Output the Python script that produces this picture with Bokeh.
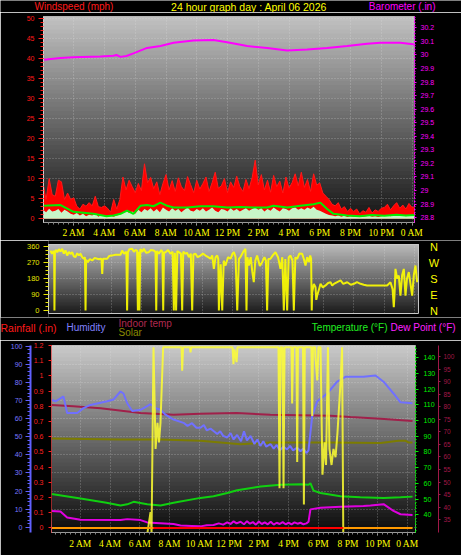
import numpy as np
from bokeh.plotting import figure
from bokeh.models import Range1d, LinearAxis, FixedTicker, Label, Grid
from bokeh.embed import file_html
from bokeh.resources import INLINE

# ---------------- time axis ----------------
hour_ticks = [2, 4, 6, 8, 10, 12, 14, 16, 18, 20, 22, 24]
hour_labels = ["2 AM", "4 AM", "6 AM", "8 AM", "10 AM", "12 PM", "2 PM", "4 PM",
               "6 PM", "8 PM", "10 PM", "0 AM"]

# ---------------- top panel: wind (mph) + barometer (in) ----------------
wind_hours = [0.0, 0.2, 0.4, 0.6, 0.8, 1.0, 1.2, 1.4, 1.6, 1.8, 2.0, 2.2, 2.4, 2.6, 2.8,
              3.0, 3.2, 3.4, 3.6, 3.8, 4.0, 4.2, 4.4, 4.6, 4.8, 5.0, 5.2, 5.4, 5.6, 5.8,
              6.0, 6.2, 6.4, 6.6, 6.8, 7.0, 7.2, 7.4, 7.6, 7.8, 8.0, 8.2, 8.4, 8.6, 8.8,
              9.0, 9.2, 9.4, 9.6, 9.8, 10.0, 10.2, 10.4, 10.6, 10.8, 11.0, 11.2, 11.4,
              11.6, 11.8, 12.0, 12.2, 12.4, 12.6, 12.8, 13.0, 13.2, 13.4, 13.6, 13.8,
              14.0, 14.2, 14.4, 14.6, 14.8, 15.0, 15.2, 15.4, 15.6, 15.8, 16.0, 16.2,
              16.4, 16.6, 16.8, 17.0, 17.2, 17.4, 17.6, 17.8, 18.0, 18.2, 18.4, 18.6,
              18.8, 19.0, 19.2, 19.4, 19.6, 19.8, 20.0, 20.2, 20.4, 20.6, 20.8, 21.0,
              21.2, 21.4, 21.6, 21.8, 22.0, 22.2, 22.4, 22.6, 22.8, 23.0, 23.2, 23.4,
              23.6, 23.8, 24.0, 24.2]
wind_gust = [8.9, 4.8, 10.0, 6.0, 5.6, 9.6, 9.2, 4.8, 6.4, 4.8,
             5.2, 3.1, 2.4, 3.6, 3.1, 4.0, 3.2, 5.6, 3.0, 2.8, 3.2, 2.6, 1.6, 4.8, 2.4,
             4.8, 10.4, 7.2, 9.6, 8.0, 6.5, 8.8, 7.0,
             13.7,
             9.0, 10.3, 7.5, 9.2, 6.0, 8.8, 11.0, 7.2, 9.5, 6.8, 10.2, 8.0, 7.0, 10.5, 8.5, 6.5,
             9.6, 7.4, 8.8, 10.4, 6.8, 9.0, 11.6, 7.6, 8.2, 10.0, 6.5, 9.2, 7.8, 10.6, 8.0,
             6.8, 9.8, 7.5, 10.2,
             14.6,
             8.4, 11.0, 7.2, 9.6, 6.6, 10.8, 8.0, 9.4, 6.4, 10.4, 7.6, 9.0, 11.2, 8.2,
             11.6, 7.8, 9.8, 6.8, 11.2, 8.4, 8.9,
             6.4, 5.6, 4.8, 3.6,
             3.2, 4.0, 2.4, 3.0, 1.8, 2.6,
             1.8, 2.4, 1.2, 2.0, 1.6, 2.8, 1.4, 2.2, 1.8, 2.6,
             2.8, 3.6, 2.2, 3.2, 4.0, 2.6, 3.4, 2.4, 3.8, 2.8, 3.0]
wind_speed = [2.2, 1.6, 2.5, 1.8, 2.0, 2.4, 1.5, 2.2, 1.8, 1.2,
              1.0, 1.4, 0.8, 1.2, 0.6, 1.0, 0.8, 1.3, 0.5, 0.9, 0.6, 0.4, 0.7, 0.5, 0.8,
              1.0, 1.6, 2.0, 1.4, 1.8, 1.2, 2.2, 1.6,
              2.4,
              2.0, 2.6, 1.8, 2.4, 1.6, 2.8, 2.2, 1.8, 2.6, 2.0, 2.4, 1.6, 2.2, 2.8, 2.0, 1.8,
              2.4, 2.0, 2.6, 1.8, 2.2, 2.8, 2.0, 1.6, 2.4, 2.2, 1.8, 2.6, 2.0, 2.4, 1.8,
              2.2, 2.6, 2.0, 2.4,
              2.8,
              2.2, 2.6, 1.8, 2.4, 2.0, 2.8, 2.2, 1.8, 2.6, 2.4, 2.0, 2.6, 2.8, 2.2,
              2.6, 2.2, 2.8, 2.4, 3.0, 2.2, 2.0,
              1.6, 1.2, 0.9, 0.8,
              0.6, 0.8, 0.5, 0.7, 0.4, 0.6,
              0.5, 0.6, 0.4, 0.5, 0.6, 0.7, 0.5, 0.6, 0.4, 0.6,
              0.7, 0.9, 0.6, 0.8, 1.0, 0.7, 0.9, 0.6, 0.8, 0.7, 0.8]
avg_hours = [0.03, 1.14, 1.98, 3.28, 4.13, 4.58, 5.04, 5.47, 5.88, 6.34, 6.77, 7.18, 7.64,
             8.08, 8.49, 9.38, 10.24, 11.08, 11.98, 12.84, 13.69, 14.58, 14.99, 15.88,
             16.74, 17.59, 18.04, 18.48, 18.89, 19.78, 20.6, 21.4, 22.2, 23.0, 23.6, 24.2]
wind_avg = [3.2, 3.4, 1.7, 1.2, 0.6, 0.8, 1.2, 2.0, 1.2, 3.2, 3.4, 3.1, 4.0, 3.2, 2.8, 2.8,
            3.1, 3.1, 2.8, 2.9, 2.8, 2.8, 3.2, 2.8, 3.2, 3.6, 4.0, 2.4, 1.2, 0.8, 0.6, 0.9,
            0.7, 1.0, 0.8, 0.9]
baro_hours = [0.03, 1.14, 1.98, 3.74, 4.58, 4.78, 5.04, 5.43, 5.88, 6.77, 7.64, 8.49, 9.79,
              11.08, 11.98, 13.28, 14.58, 15.88, 17.18, 18.48, 19.78, 21.08, 21.94, 23.24, 24.2]
baro_inhg = [29.964, 29.977, 29.984, 29.988, 29.995, 30.0, 29.986, 29.993, 30.012, 30.052,
             30.066, 30.09, 30.107, 30.111, 30.094, 30.066, 30.052, 30.033, 30.04, 30.052,
             30.066, 30.083, 30.09, 30.09, 30.078]
wind_ticks = [0, 5, 10, 15, 20, 25, 30, 35, 40, 45, 50]
baro_ticks = [28.8, 28.9, 29.0, 29.1, 29.2, 29.3, 29.4, 29.5, 29.6, 29.7, 29.8, 29.9,
              30.0, 30.1, 30.2]
baro_tick_labels = ["28.8", "28.9", "29", "29.1", "29.2", "29.3", "29.4", "29.5", "29.6",
                    "29.7", "29.8", "29.9", "30", "30.1", "30.2"]

# ---------------- middle panel: wind direction (deg) ----------------
dir_hours = [0.00, 0.06, 0.11, 0.20, 0.24, 0.26, 0.29, 0.36, 0.44, 0.55,
             0.66, 0.77, 0.88, 0.99, 1.10, 1.21, 1.32, 1.43, 1.54, 1.65,
             1.76, 1.87, 1.98, 2.09, 2.20, 2.27, 2.31, 2.35, 2.46, 2.60,
             2.75, 2.90, 3.08, 3.20, 3.30, 3.36, 3.41, 3.46, 3.52, 3.74,
             3.85, 3.96, 4.10, 4.28, 4.45, 4.61, 4.72, 4.85, 5.00, 5.05,
             5.10, 5.20, 5.38, 5.50, 5.60, 5.71, 5.76, 5.80, 5.86, 5.92,
             6.05, 6.15, 6.30, 6.48, 6.60, 6.81, 6.92, 6.97, 7.02, 7.14,
             7.30, 7.38, 7.43, 7.48, 7.58, 7.75, 7.91, 8.05, 8.13, 8.20,
             8.28, 8.36, 8.46, 8.60, 8.68, 8.75, 8.90, 9.00, 9.12, 9.25,
             9.34, 9.42, 9.56, 9.70, 9.89, 10.05, 10.22, 10.40, 10.55, 10.66,
             10.77, 10.88, 10.99, 11.06, 11.10, 11.22, 11.32, 11.42, 11.54, 11.70,
             11.87, 12.00, 12.09, 12.20, 12.31, 12.42, 12.52, 12.70, 12.85, 12.92,
             12.98, 13.07, 13.20, 13.30, 13.40, 13.50, 13.62, 13.80, 13.95, 14.10,
             14.20, 14.28, 14.36, 14.50, 14.65, 14.83, 15.00, 15.16, 15.28, 15.38,
             15.48, 15.60, 15.70, 15.82, 15.95, 16.04, 16.14, 16.26, 16.40, 16.59,
             16.70, 16.81, 16.92, 17.03, 17.12, 17.18, 17.22, 17.25, 17.36, 17.47,
             17.52, 17.58, 17.70, 17.80, 17.95, 18.13, 18.30, 18.46, 18.57, 18.68,
             18.90, 19.12, 19.30, 19.56, 19.80, 20.00, 20.20, 20.44, 20.65, 20.87,
             21.10, 21.31, 21.55, 21.75, 22.00, 22.19, 22.41, 22.55, 22.63, 22.68,
             22.74, 22.85, 22.96, 23.07, 23.18, 23.29, 23.40, 23.50, 23.62, 23.73,
             23.84, 23.95, 24.06, 24.17]
dir_deg = [337, 325, 319, 335, 330, 0, 328, 340, 328, 345,
           332, 347, 320, 338, 309, 330, 318, 328, 305, 300,
           322, 310, 319, 300, 291, 300, 0, 285, 272, 290,
           281, 295, 291, 288, 291, 290, 206, 291, 291, 291,
           305, 309, 310, 313, 313, 313, 337, 320, 330, 0,
           328, 345, 347, 330, 340, 337, 0, 330, 0, 345,
           330, 347, 325, 328, 340, 337, 330, 0, 335, 319,
           340, 330, 0, 325, 328, 340, 319, 330, 0, 325,
           0, 335, 328, 320, 0, 330, 319, 325, 300, 320,
           0, 315, 319, 300, 309, 320, 309, 300, 291, 310,
           234, 300, 309, 290, 0, 260, 0, 280, 253, 300,
           291, 320, 328, 300, 0, 290, 300, 330, 347, 0,
           300, 253, 300, 220, 159, 280, 309, 250, 272, 300,
           280, 0, 290, 291, 310, 328, 300, 234, 300, 0,
           290, 0, 300, 309, 280, 0, 300, 291, 320, 319,
           290, 253, 300, 272, 310, 291, 0, 103, 150, 131,
           60, 84, 120, 150, 130, 141, 155, 159, 140, 150,
           160, 169, 150, 159, 145, 150, 160, 150, 145, 141,
           141, 141, 141, 141, 141, 141, 159, 120, 18, 94,
           234, 180, 197, 84, 200, 234, 84, 180, 216, 150,
           84, 200, 253, 159]
dir_ticks = [0, 90, 180, 270, 360]
compass_deg = [360, 270, 180, 90, 0]
compass_letters = ["N", "W", "S", "E", "N"]

# ---------------- bottom panel ----------------
hum_hours = [0.09, 0.32, 0.65, 0.85, 1.10, 1.78, 2.20, 2.67, 3.80, 4.22, 4.69, 4.89, 5.14,
             5.48, 6.04, 6.49, 6.71, 7.05, 7.38, 7.72, 8.26, 8.93, 9.2, 9.5, 9.8, 10.07,
             10.3, 10.5, 10.75, 10.95, 11.2, 11.4, 11.6, 11.87, 12.1, 12.3, 12.54, 12.8,
             13.0, 13.2, 13.44, 13.7, 13.9, 14.1, 14.3, 14.5, 14.78, 15.0, 15.2, 15.4,
             15.66, 15.9, 16.1, 16.3, 16.58, 16.8, 17.0, 17.2, 17.34, 17.59, 17.93, 18.60,
             19.27, 19.83, 21.04, 21.85, 22.39, 23.06, 23.53, 24.34]
humidity = [70.3, 69.6, 71.2, 72.3, 63.1, 63.1, 65.8, 67.6, 69.6, 70.6, 75.0, 73.9, 68.5,
            64.2, 64.9, 66.9, 68.0, 65.8, 64.9, 62.2, 59.5, 57.7, 56.0, 57.5, 55.0, 55.0,
            56.5, 53.5, 54.5, 53.2, 51.5, 53.0, 50.5, 49.6, 52.0, 48.5, 51.0, 47.5,
            53.0, 48.0, 50.5, 46.0, 48.5, 45.0, 47.5, 44.5, 46.0, 43.5, 45.5, 42.5,
            44.5, 43.0, 45.0, 42.5, 44.0, 42.0, 43.5, 41.0, 42.5, 61.5, 69.6, 73.9,
            80.4, 83.1, 83.1, 83.8, 80.4, 73.9, 69.0, 68.5]
indoor_hours = [0.05, 1.5, 3.35, 6.04, 8.26, 10.07, 12.50, 14.78, 18.82, 20.17, 22.19, 24.34]
indoor_temp = [80.7, 80.2, 79.4, 77.5, 76.8, 77.2, 77.5, 76.8, 76.4, 75.9, 75.2, 74.3]
solar_hours = [0.05, 4.69, 7.38, 10.07, 12.77, 14.78, 18.82, 22.19, 23.40, 23.87, 24.07, 24.34]
solar = [49.0, 48.5, 48.5, 47.8, 45.9, 46.9, 46.9, 46.5, 47.8, 47.8, 46.9, 46.9]
temp_hours = [0.05, 2.0, 3.75, 4.69, 5.14, 5.57, 6.49, 7.38, 8.26, 10.07, 10.95, 11.87,
              12.54, 14.11, 15.46, 16.80, 17.34, 17.47, 17.68, 18.15, 19.49, 20.83, 22.39,
              23.53, 24.34]
temp_f = [53.3, 50.4, 47.7, 46.0, 46.7, 48.3, 46.7, 46.0, 47.7, 50.8, 51.8, 53.9, 55.6,
          58.0, 59.1, 59.5, 59.1, 60.1, 55.4, 53.9, 51.8, 51.2, 50.8, 51.2, 51.6]
dew_hours = [0.05, 0.65, 1.10, 2.0, 4.69, 5.14, 6.04, 6.49, 8.26, 8.73, 9.5, 10.07, 10.5,
             10.95, 11.3, 11.6, 11.87, 12.1, 12.3, 12.5, 12.77, 13.0, 13.2, 13.4, 13.6,
             13.8, 14.0, 14.2, 14.4, 14.6, 14.8, 15.0, 15.2, 15.4, 15.6, 15.8, 16.0, 16.2,
             16.4, 16.6, 16.8, 17.0, 17.2, 17.34, 17.47, 18.15, 19.49, 21.04, 21.51,
             22.39, 23.06, 23.53, 24.34]
dew_f = [42.5, 42.1, 38.3, 36.9, 36.7, 37.3, 36.7, 35.2, 34.2, 33.2, 33.0, 32.7, 33.4,
         33.6, 34.6, 33.8, 35.2, 34.2, 35.9, 34.6, 35.6, 34.0, 36.0, 34.4, 35.4,
         33.8, 35.8, 34.2, 35.2, 34.0, 35.6, 33.8, 35.0, 34.2, 35.4, 34.0, 35.0, 34.0,
         35.2, 34.4, 35.0, 34.0, 34.6, 35.6, 43.5, 44.5, 45.2, 45.6, 46.0,
         46.8, 42.5, 40.4, 40.0]
sun_hours = [6.51, 6.71, 6.78, 6.91, 7.05, 7.18, 7.28, 7.38, 7.56, 8.80, 8.84, 8.90, 9.37,
             9.40, 9.45, 12.23, 12.29, 12.36, 12.50, 12.56, 15.32, 15.39, 15.46, 15.59,
             15.66, 15.73, 16.20, 16.24, 16.30, 16.53, 16.58, 16.63, 16.97, 17.03, 17.09,
             17.54, 17.59, 17.64, 17.78, 17.81, 17.93, 18.01, 18.15, 18.28, 18.42, 18.52,
             18.65, 18.75, 18.89, 19.02, 19.16, 19.29, 19.49, 19.60, 19.68]
sun_wm2 = [0, 108, 0, 990, 446, 586, 481, 586, 990, 990, 865, 990, 990,
           963, 990, 990, 900, 979, 911, 990, 990, 236, 990, 990,
           236, 990, 990, 690, 990, 990, 376, 990, 990, 149, 990,
           990, 622, 990, 990, 937, 813, 990, 990, 308, 481, 360,
           990, 446, 360, 446, 402, 533, 795, 990, 0]
rate_hours = [0.05, 24.34]
rain_rate = [0.0, 0.0]
rain_hours = [6.9, 19.68]
rain_in = [0.0, 0.0]
rain_ticks = [0.0, 0.1, 0.2, 0.3, 0.4, 0.5, 0.6, 0.7, 0.8, 0.9, 1.0, 1.1, 1.2]
rain_tick_labels = ["0", "0.1", "0.2", "0.3", "0.4", "0.5", "0.6", "0.7", "0.8", "0.9",
                    "1", "1.1", "1.2"]
hum_ticks = [0, 10, 20, 30, 40, 50, 60, 70, 80, 90, 100]
temp_ticks = [40, 50, 60, 70, 80, 90, 100, 110, 120, 130, 140]
indoor_ticks = [35, 40, 45, 50, 55, 60, 65, 70, 75, 80, 85, 90, 95, 100]

FONT = "Liberation Sans"
TICK_FONT = "Liberation Sans Narrow"
minor_hours = [i / 3 for i in range(0, 75)]
W = 461


def gray(v):
    v = int(round(v))
    return "#%02x%02x%02x" % (v, v, v)


def backdrop(p, x0, x1, y0, y1, top_level, bottom_level, n=48):
    edges = np.linspace(y0, y1, n + 1)[:-1]
    levels = np.linspace(bottom_level, top_level, n)
    p.quad(left=x0, right=x1, bottom=edges, top=y1,
           fill_color=[gray(v) for v in levels], line_color=None, level="image")


def add_grids(p, xticks, yticks, xcross=None, ycross=None):
    for g in p.grid:
        g.visible = False
    for dim, ticks, cross in ((0, xticks, ycross), (1, yticks, xcross)):
        if not ticks:
            continue
        g = Grid(dimension=dim, ticker=FixedTicker(ticks=ticks), grid_line_color="#e8e8e8",
                 grid_line_alpha=0.4, grid_line_dash="1 2")
        if cross is not None:
            g.cross_bounds = cross
        p.add_layout(g, "center")


def style_time_axis(ax):
    ax.ticker = FixedTicker(ticks=hour_ticks, minor_ticks=minor_hours)
    ax.major_label_overrides = {t: l for t, l in zip(hour_ticks, hour_labels)}
    ax.major_label_text_color = "#ffff00"
    ax.major_label_text_font = TICK_FONT
    ax.major_label_text_font_size = "9.5px"
    ax.axis_line_color = "#9a9a9a"
    ax.major_tick_line_color = "#b0b0b0"
    ax.minor_tick_line_color = "#808080"
    ax.major_tick_out = 3
    ax.major_tick_in = 0
    ax.minor_tick_out = 2
    ax.minor_tick_in = 0
    ax.major_label_standoff = 2


def style_value_axis(ax, ticks, minor, color, label_color=None, size="7px", standoff=3,
                     tick_out=4, minor_out=2, line_color=None, line_dash="solid",
                     line_width=1, labels=None):
    ax.ticker = FixedTicker(ticks=ticks, minor_ticks=minor)
    if labels is not None:
        ax.major_label_overrides = {t: l for t, l in zip(ticks, labels)}
    ax.major_label_text_color = label_color or color
    ax.major_label_text_font = FONT
    ax.major_label_text_font_size = size
    ax.major_label_standoff = standoff
    ax.major_tick_out = tick_out
    ax.major_tick_in = 0
    ax.minor_tick_out = minor_out
    ax.minor_tick_in = 0
    ax.major_tick_line_color = color
    ax.minor_tick_line_color = color
    ax.axis_line_color = line_color or color
    ax.axis_line_dash = line_dash
    ax.axis_line_width = line_width


def text(p, x, y, s, color, size="10px", align="left", y_units="screen"):
    p.add_layout(Label(x=x, y=y, x_units="screen", y_units=y_units, text=s,
                       text_color=color, text_font=FONT, text_font_size=size,
                       text_align=align, text_baseline="middle"))


base = dict(toolbar_location=None, output_backend="svg", background_fill_color="black",
            border_fill_color="black")


def header(h):
    f = figure(width=W, height=h, x_range=Range1d(0, W), y_range=Range1d(0, h),
               x_axis_location=None, y_axis_location=None, min_border_left=0,
               min_border_right=0, min_border_top=0, min_border_bottom=0,
               outline_line_color=None, **base)
    for g in f.grid:
        g.visible = False
    return f


# ================= header row (screen rows 0-12) =================
h1 = header(12)
text(h1, 34, 6, "Windspeed (mph)", "#ff1a1a")
text(h1, 248.5, 6, "24 hour graph day : April 06 2026", "#ffff00", size="10.5px",
     align="center")
text(h1, 435, 6, "Barometer (.in)", "#ff00ff", align="right")

# ================= top figure (rows 12-240) =================
p1 = figure(width=W, height=228, x_range=Range1d(0.033, 24.16), y_range=Range1d(-0.96, 50.48),
            min_border_left=43, min_border_right=47, min_border_top=4, min_border_bottom=16,
            outline_line_color="#c8c8c8", **base)
p1.extra_y_ranges = {"baro": Range1d(28.764, 30.284)}
backdrop(p1, 0.033, 24.16, -0.96, 50.48, 192, 20)
add_grids(p1, hour_ticks, wind_ticks)
p1.varea(x=wind_hours, y1=0, y2=wind_gust, fill_color="#ff0000")
p1.line(wind_hours, wind_gust, line_color="#ff1a1a", line_width=1)
p1.varea(x=wind_hours, y1=0, y2=wind_speed, fill_color="#c8f5c8")
p1.line(avg_hours, wind_avg, line_color="#00ee00", line_width=2)
p1.line(baro_hours, baro_inhg, line_color="#ff00ff", line_width=2, y_range_name="baro")
style_value_axis(p1.yaxis[0], wind_ticks, list(range(0, 51)), "#ff1a1a", tick_out=5,
                 minor_out=3, standoff=4, line_color="#d0d0d0")
baro_axis = LinearAxis(y_range_name="baro")
p1.add_layout(baro_axis, "right")
style_value_axis(baro_axis, baro_ticks, [28.8 + 0.02 * i for i in range(0, 75)], "#ff00ff",
                 tick_out=2, minor_out=1, standoff=4, line_dash="2 2", labels=baro_tick_labels)
style_time_axis(p1.xaxis[0])

# ================= middle figure (rows 240-317) =================
DIR_LO, DIR_HI = -16.875, 371.25
T2_LO, T2_HI = -0.132, 24.258
p2 = figure(width=W, height=77, x_range=Range1d(-0.132, 27.093),
            y_range=Range1d(-39.375, 393.75), x_axis_location=None, min_border_left=48,
            min_border_right=0, min_border_top=0, min_border_bottom=0,
            outline_line_color=None, **base)
backdrop(p2, T2_LO, T2_HI, DIR_LO, DIR_HI, 185, 28)
add_grids(p2, hour_ticks, [90, 180, 270], xcross=(T2_LO, T2_HI), ycross=(DIR_LO, DIR_HI))
p2.line(dir_hours, dir_deg, line_color="#ffff00", line_width=2, line_alpha=0.9)
p2.quad(left=T2_LO, right=T2_HI, bottom=DIR_LO, top=DIR_HI, fill_alpha=0,
        line_color="#c8c8c8", line_width=1)
style_value_axis(p2.yaxis[0], dir_ticks, [22.5 * i for i in range(0, 17)], "#e6e600",
                 size="7.5px", tick_out=5, minor_out=3, standoff=4, line_color="#d0d0d0")
p2.yaxis[0].bounds = (DIR_LO, DIR_HI)
for d, s in zip(compass_deg, compass_letters):
    text(p2, 385.5, d, s, "#ffff00", size="11px", align="center", y_units="data")

# ================= legend row of bottom panel (rows 317-340) =================
h3 = header(23)
text(h3, 118, 17.3, "Indoor temp", "#b0284f")
text(h3, 118, 8, "Solar", "#8a8a00")
text(h3, 0, 13, "Rainfall (.in)", "#ff1a1a", size="10.5px")
text(h3, 66, 13, "Humidity", "#8080ff")
text(h3, 387, 13, "Temperature (°F)", "#20ee20", align="right")
text(h3, 390, 13, "Dew Point (°F)", "#ff20ff")

# ================= bottom figure (rows 340-555) =================
p3 = figure(width=W, height=215, x_range=Range1d(0.047, 24.54), y_range=Range1d(-2.86, 100.4),
            y_axis_location=None, min_border_left=51, min_border_right=46, min_border_top=5,
            min_border_bottom=23, outline_line_color="#c8c8c8", **base)
p3.extra_y_ranges = {"rain": Range1d(-0.030, 1.2), "temp": Range1d(28.8, 147.65),
                     "indoor": Range1d(29.93, 104.4), "sun": Range1d(-1.5, 1000)}
backdrop(p3, 0.047, 24.54, -2.86, 100.4, 200, 12)
add_grids(p3, hour_ticks, hum_ticks)
p3.line(solar_hours, solar, line_color="#7c7c00", line_width=2)
p3.line(indoor_hours, indoor_temp, line_color="#a0204a", line_width=2, y_range_name="indoor")
p3.line(hum_hours, humidity, line_color="#7070ff", line_width=2)
p3.line(temp_hours, temp_f, line_color="#10d010", line_width=2, y_range_name="temp")
p3.line(dew_hours, dew_f, line_color="#e000e0", line_width=2, y_range_name="temp")
p3.line(sun_hours, sun_wm2, line_color="#ffff30", line_width=2, line_alpha=0.85,
        y_range_name="sun")
p3.line(rate_hours, rain_rate, line_color="#ff9900", line_width=2, y_range_name="rain")
p3.line(rain_hours, rain_in, line_color="#ff0000", line_width=2, y_range_name="rain")

rain_axis = LinearAxis(y_range_name="rain")
p3.add_layout(rain_axis, "left")
style_value_axis(rain_axis, rain_ticks, [], "#ff2020", tick_out=3, standoff=5,
                 line_dash="1 1", labels=rain_tick_labels)
hum_axis = LinearAxis()
p3.add_layout(hum_axis, "left")
style_value_axis(hum_axis, hum_ticks, list(range(0, 101, 2)), "#6060ff", label_color="#7878ff",
                 tick_out=5, minor_out=3, standoff=3, line_width=2)
temp_axis = LinearAxis(y_range_name="temp")
p3.add_layout(temp_axis, "right")
style_value_axis(temp_axis, temp_ticks, list(range(30, 148, 2)), "#00ee00", tick_out=3,
                 minor_out=1, standoff=5, line_dash="2 2")
indoor_axis = LinearAxis(y_range_name="indoor")
p3.add_layout(indoor_axis, "right")
style_value_axis(indoor_axis, indoor_ticks, [], "#a01848", size="6.5px", tick_out=2,
                 standoff=3)
style_time_axis(p3.xaxis[0])
p3.xaxis[0].major_label_standoff = 3

roots = [h1, p1, p2, h3, p3]
open("out.html", "w").write(file_html(roots, INLINE))
